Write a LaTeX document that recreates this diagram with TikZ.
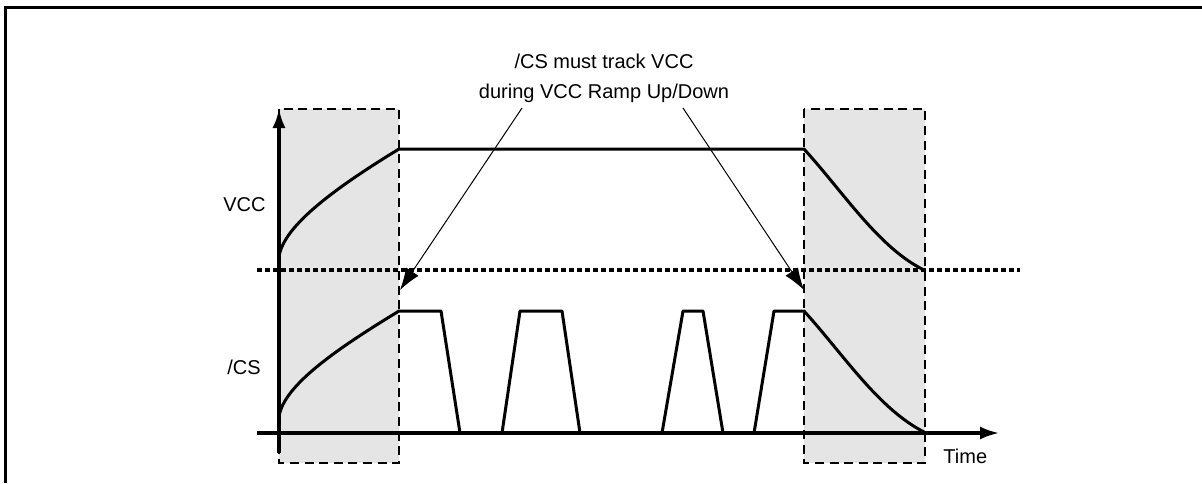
\documentclass[tikz,border=0pt]{standalone}
\usepackage{fontspec}
\setmainfont{Liberation Sans}
\usetikzlibrary{arrows.meta}
\colorlet{shadecol}{black!10}
\colorlet{sigcol}{black}

\begin{document}
\begin{tikzpicture}[x=0.5pt, y=-0.5pt,
  every node/.style={font=\fontsize{10}{13.5}\selectfont, inner sep=0pt},
  sig/.style={sigcol, line width=1.5pt, line join=round},
  axis/.style={sigcol, line width=2pt, -{Latex[length=10pt,width=6.5pt]}},
  zone/.style={dash pattern=on 4.5pt off 2.8pt, line width=1.4pt},
  thresh/.style={dash pattern=on 2.5pt off 1.5pt, line width=1.6pt},
  callout/.style={line width=0.5pt, -{Latex[length=11pt,width=7.5pt]}}]
  \useasboundingbox (0,0) rectangle (1202,483);
  \draw[line width=1.5pt] (5,483) -- (5,7) -- (1202,7);
  % ramp up / ramp down zones
  \foreach \xa/\xb in {279/399, 804/925}
    {\fill[shadecol] (\xa,109) rectangle (\xb,463);
     \draw[zone] (\xa,109) rectangle (\xb,463);}
  \draw[thresh] (257,270) -- (1020,270);
  % VCC
  \draw[sig] (279,257) .. controls (283,225) and (340,185) .. (399,149) -- (804,149)
    .. controls (844,193) and (879,248) .. (924,270);
  % /CS
  \draw[sig] (279,417) .. controls (283,385) and (340,347) .. (399,311) -- (441,311) -- (460,433);
  \foreach \a/\b/\c/\d in {502/520/562/580, 662/683/703/723}
    {\draw[sig] (\a,433) -- (\b,311) -- (\c,311) -- (\d,433);}
  \draw[sig] (754,433) -- (774,311) -- (804,311)
    .. controls (844,355) and (879,410) .. (926,433);
  % axes
  \draw[axis] (279,453) -- (279,108);
  \draw[axis] (257,433) -- (1000,433);
  \node[anchor=east] (vcclbl) at (266,205) {VCC};
  \node[anchor=east] (cslbl) at (261,367) {/CS};
  \node[anchor=west] (timelbl) at (943,456) {Time};
  \node[align=center] (note) at (604,78) {/CS must track VCC\\[1.5pt]during VCC Ramp Up/Down};
  \coordinate (upfrom) at (522,108);
  \coordinate (dnfrom) at (683,108);
  \coordinate (rampup) at (400,290);
  \coordinate (rampdn) at (804,290);
  \draw[callout] (upfrom) -- (rampup);
  \draw[callout] (dnfrom) -- (rampdn);
\end{tikzpicture}
\end{document}
